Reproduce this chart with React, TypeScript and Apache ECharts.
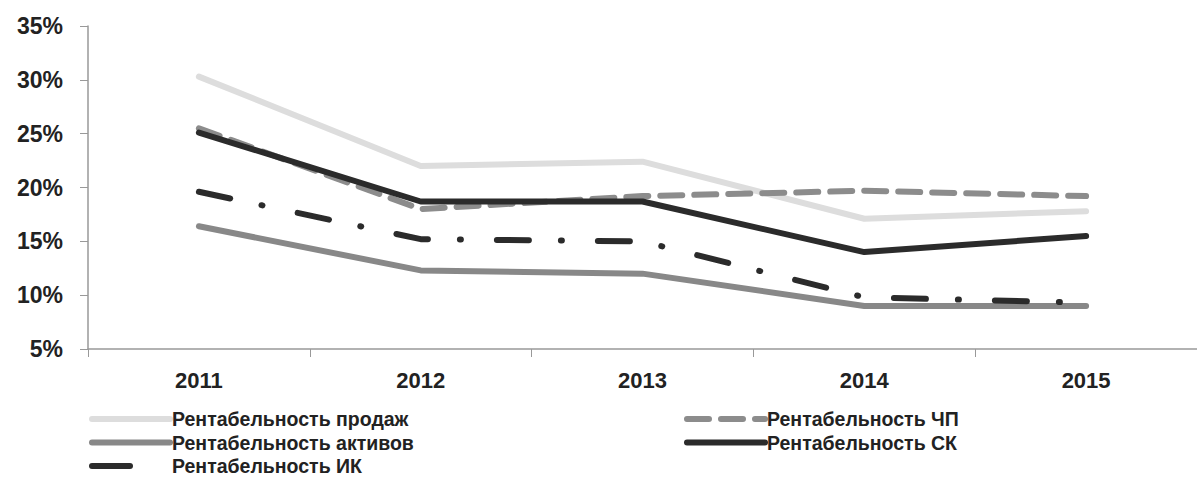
import React, { useEffect, useRef } from "react";
import * as echarts from "echarts";

const years = ["2011", "2012", "2013", "2014", "2015"];
const salesROS = [30.3, 22.0, 22.4, 17.1, 17.8];
const netProfitROE = [25.5, 18.0, 19.2, 19.7, 19.2];
const assetsROA = [16.4, 12.3, 12.0, 9.0, 9.0];
const equityROE = [25.1, 18.7, 18.7, 14.0, 15.5];
const investedROIC = [19.6, 15.2, 15.0, 9.8, 9.3];

const names = [
  "Рентабельность продаж",
  "Рентабельность ЧП",
  "Рентабельность активов",
  "Рентабельность СК",
  "Рентабельность ИК",
];

export default function App() {
  const ref = useRef<HTMLDivElement>(null);
  useEffect(() => {
    if (!ref.current) return;
    const chart = echarts.init(ref.current, null, { renderer: "svg" });
    const font = "'Liberation Sans', Arial, sans-serif";
    const mk = (name: string, data: number[], color: string, type: any, z: number) => ({
      name,
      type: "line",
      data,
      symbol: "none",
      z,
      lineStyle: { color, width: 6, type, cap: "round", join: "round" },
      itemStyle: { color },
    });
    const legendCommon = {
      orient: "vertical",
      top: 408,
      itemWidth: 78,
      itemHeight: 14,
      itemGap: 1.5,
      padding: 0,
      itemStyle: { opacity: 0, borderWidth: 0 },
      lineStyle: { width: 6, cap: "round" },
      textStyle: { color: "#222", fontWeight: "bold", fontSize: 19.5, fontFamily: font, lineHeight: 22, padding: [0, 0, 0, -3] },
    };
    chart.setOption({
      animation: false,
      backgroundColor: "#ffffff",
      grid: { left: 88, right: -11, top: 26, bottom: 135 },
      xAxis: {
        type: "category",
        data: years,
        boundaryGap: true,
        axisLine: { lineStyle: { color: "#999", width: 1.5 } },
        axisTick: { show: true, length: 8, lineStyle: { color: "#999" } },
        axisLabel: {
          margin: 20,
          color: "#222",
          fontWeight: "bold",
          fontSize: 22,
          fontFamily: font,
        },
      },
      yAxis: {
        type: "value",
        min: 5,
        max: 35,
        interval: 5,
        splitLine: { show: false },
        axisLine: { show: true, lineStyle: { color: "#999", width: 1.5 } },
        axisTick: { show: true, length: 8, lineStyle: { color: "#999" } },
        axisLabel: {
          margin: 25,
          color: "#222",
          fontWeight: "bold",
          fontSize: 23,
          fontFamily: font,
          formatter: "{value}%",
        },
      },
      legend: [
        {
          ...legendCommon,
          left: 89,
          data: [
            { name: names[0] },
            { name: names[2] },
            { name: names[4], lineStyle: { type: [38, 200], width: 6, cap: "round" } },
          ],
        },
        { ...legendCommon, left: 684, data: [names[1], names[3]] },
      ],
      series: [
        mk(names[0], salesROS, "#dddddd", "solid", 1),
        mk(names[1], netProfitROE, "#8c8c8c", [22, 12], 2),
        mk(names[2], assetsROA, "#888888", "solid", 3),
        mk(names[3], equityROE, "#2b2b2b", "solid", 4),
        mk(names[4], investedROIC, "#2b2b2b", [32, 32, 1, 36], 5),
      ],
    });
    return () => chart.dispose();
  }, []);
  return <div ref={ref} style={{ width: 1197, height: 484, position: "absolute", left: 0, top: 0 }} />;
}
